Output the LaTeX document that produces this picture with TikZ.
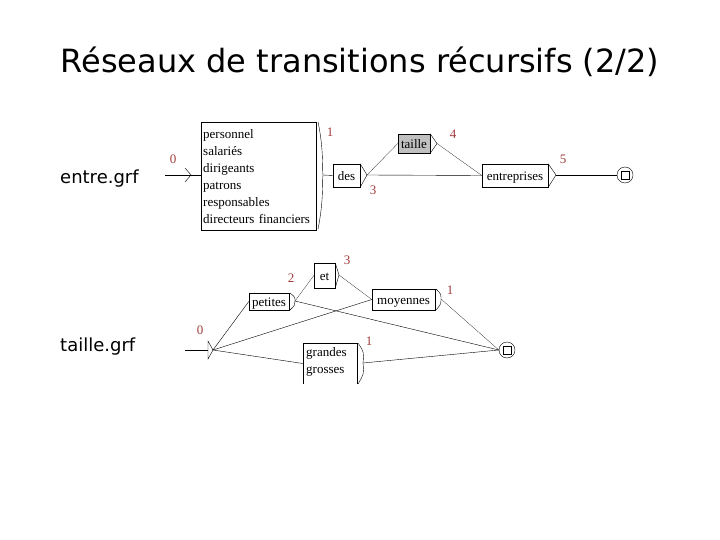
\documentclass[tikz,border=0pt]{standalone}
\usepackage{fontspec}
\setmainfont{Liberation Serif}
\newfontfamily\titlefont{DejaVu Sans}
\definecolor{numred}{RGB}{160,60,60}
\definecolor{boxgray}{RGB}{192,192,192}
\tikzset{
  box/.style={draw, thin, inner sep=2pt, font=\fontsize{13}{17}\selectfont, minimum height=23},
  onel/.style={text height=10.5pt, text depth=0pt},
  num/.style={text=numred, font=\fontsize{13}{13}\selectfont, inner sep=0},
  lbl/.style={font=\titlefont\fontsize{18}{18}\selectfont, inner sep=0},
  edge/.style={draw, thin},
  fine/.style={draw, very thin},
  fin/.style={draw, circle, thin, minimum size=16, inner sep=0},
  finsq/.style={draw, thin, minimum size=8, inner sep=0}
}
\begin{document}
\begin{tikzpicture}[x=1pt,y=-1pt]
\useasboundingbox (0,0) rectangle (720,540);
% title
\node[font=\titlefont\fontsize{32}{32}\selectfont, inner sep=0] (title) at (360,62) {Réseaux de transitions récursifs (2/2)};
\node[lbl, anchor=west] (l1) at (60,179) {entre.grf};
\node[lbl, anchor=west] (l2) at (60,347) {taille.grf};

% ---------- entre.grf ----------
\coordinate (i0s) at (165,175);
\coordinate (i0) at (191,175);
\draw[edge] (i0s) -- (i0);
\draw[edge] (185,168) -- (191,175) -- (185,182);
\node[num] (n0) at (173,159) {0};

\node[box, anchor=north west, minimum width=115, minimum height=108, align=left, text width=111, inner sep=2pt, yshift=-1.5] (list) at (201,121)
 {personnel\\salariés\\dirigeants\\patrons\\responsables\\directeurs financiers};
\coordinate (listout) at (323,175);
\draw[edge] (318,122) .. controls (324,150) and (322,170) .. (listout) .. controls (322,180) and (324,200) .. (318,229);
\node[num] (n1) at (330,132) {1};

\node[box, onel, minimum width=27, minimum height=23, inner sep=1pt] (des) at (346.5,175.5) {des};
\coordinate (desout) at (367,175);
\draw[edge] (des.north east) -- (desout) -- (des.south east);
\node[num] (n3) at (373,190) {3};

\node[box, onel, fill=boxgray, minimum width=32, minimum height=19, inner sep=1pt] (taille) at (414,143.5) {taille};
\coordinate (tailleout) at (437,143.5);
\draw[edge] (taille.north east) -- (tailleout) -- (taille.south east);
\node[num] (n4) at (453,134) {4};

\node[box, onel, minimum width=66, minimum height=23, inner sep=1pt] (entr) at (515,175.5) {entreprises};
\coordinate (entrout) at (556,175);
\draw[edge] (entr.north east) -- (entrout) -- (entr.south east);
\node[num] (n5) at (563,159) {5};

\node[fin] (f1) at (625,175) {};
\node[finsq] (f1s) at (f1) {};

\draw[edge] (i0) -- (list.west |- i0);
\draw[edge] (listout) -- (des.west);
\draw[edge] (desout) -- (entr.west);
\draw[fine] (desout) -- (taille.west);
\draw[fine] (tailleout) -- (entr.west);
\draw[edge] (entrout) -- (f1.west);

% ---------- taille.grf ----------
\coordinate (j0s) at (185,350);
\coordinate (j0) at (213,350);
\draw[edge] (j0s) -- (208,350);
\draw[edge] (208,341) -- (j0) -- (208,359) -- cycle;
\node[num] (m0) at (200,330) {0};

\node[box, onel, minimum width=40, minimum height=17, inner sep=1pt] (pet) at (269,301.5) {petites};
\coordinate (petout) at (295,301);
\draw[edge] (290,293) .. controls (295,297) .. (petout) .. controls (295,305) .. (290,310);
\node[num] (m2) at (291,278) {2};

\node[box, onel, minimum width=21, minimum height=25, inner sep=1pt] (et) at (324.5,275.5) {et};
\coordinate (etout) at (339,275);
\draw[edge] (et.north east) -- (etout) -- (et.south east);
\node[num] (m3) at (347,260) {3};

\node[box, onel, minimum width=63, minimum height=21, inner sep=1pt] (moy) at (403.5,299.5) {moyennes};
\coordinate (moyout) at (441,299);
\draw[edge] (436,289) .. controls (441,294) .. (moyout) .. controls (441,304) .. (436,310);
\node[num] (m1a) at (450,290) {1};

\node[box, draw=none, minimum width=54, minimum height=41, align=left, inner sep=2pt] (gr) at (330,363.5) {};
\node[font=\fontsize{13}{17}\selectfont, align=left, anchor=north west, inner sep=0] (grt) at (306,347) {grandes\\grosses};
\draw[edge] (gr.south west) -- (gr.north west) -- (gr.north east) -- (gr.south east);
\coordinate (grout) at (363,363);
\draw[edge] (358,343) .. controls (364,352) .. (grout) .. controls (364,374) .. (358,384);
\node[num] (m1b) at (369,341) {1};

\node[fin] (f2) at (507,350) {};
\node[finsq] (f2s) at (f2) {};

\draw[edge] (j0) -- (pet.west);
\draw[edge] (j0) -- (moy.west);
\draw[edge] (j0) -- (gr.west);
\draw[fine] (petout) -- (et.west);
\draw[edge] (petout) -- (f2.west);
\draw[fine] (etout) -- (moy.west);
\draw[fine] (moyout) -- (f2.west);
\draw[edge] (grout) -- (f2.west);
\end{tikzpicture}
\end{document}
